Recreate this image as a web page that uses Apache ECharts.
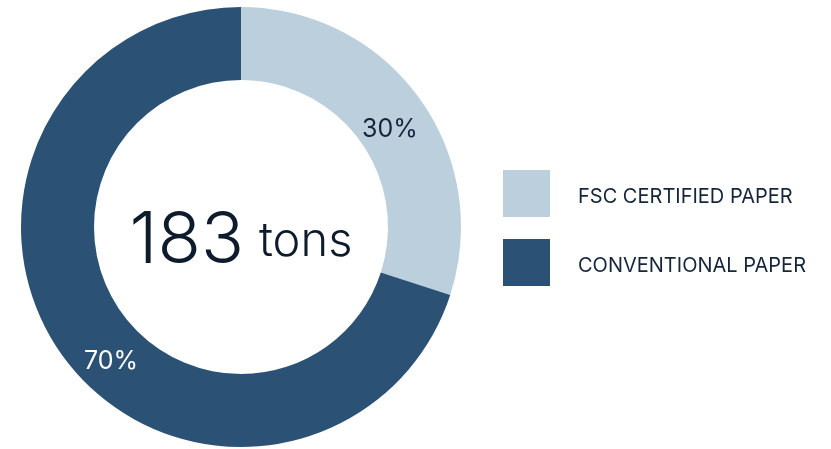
<!DOCTYPE html>
<html><head><meta charset="utf-8">
<script src="https://cdn.jsdelivr.net/npm/echarts@6/dist/echarts.min.js"></script>
<style>html,body{margin:0;padding:0;background:#fff}#c{width:831px;height:449px}</style>
</head><body><div id="c"></div>
<script>
var categories = ['FSC CERTIFIED PAPER', 'CONVENTIONAL PAPER'];
var values = [30, 70];
var colors = ['#bccfdd', '#2b5275'];
var labelColors = ['#16263a', '#ffffff'];
var labelOffsets = [[-2, 12], [21, 25]];
var totalValue = '183';
var totalUnit = 'tons';

var chart = echarts.init(document.getElementById('c'));
chart.setOption({
  animation: false,
  legend: {
    orient: 'vertical', left: 498, top: 165,
    itemWidth: 47, itemHeight: 47, itemGap: 22,
    icon: 'rect',
    data: categories,
    formatter: '{n|{name}}',
    textStyle: {
      padding: [0, 0, 0, 23],
      rich: { n: { fontFamily: 'Inter', fontSize: 20, color: '#16263a', padding: [7, 0, 0, 0] } }
    }
  },
  graphic: [{
    type: 'text', x: 241, y: 242,
    style: {
      align: 'center', verticalAlign: 'middle',
      text: '{a|' + totalValue + '}{b|' + totalUnit + '}',
      rich: {
        a: { fontFamily: 'Inter', fontSize: 71, fontWeight: 300, fill: '#0d1b2c' },
        b: { fontFamily: 'Inter', fontSize: 47, fontWeight: 300, fill: '#0d1b2c', padding: [0, 0, 0, 15] }
      }
    }
  }],
  series: [{
    type: 'pie', center: [241, 227], radius: [147, 220],
    startAngle: 90, clockwise: true,
    label: { show: true, position: 'inside', fontFamily: 'Inter', fontSize: 25, formatter: function (p) { return p.value + '%'; } },
    labelLine: { show: false },
    data: categories.map(function (c, i) {
      return { name: c, value: values[i], itemStyle: { color: colors[i] },
        label: { color: labelColors[i], offset: labelOffsets[i] } };
    })
  }]
});
</script></body></html>
